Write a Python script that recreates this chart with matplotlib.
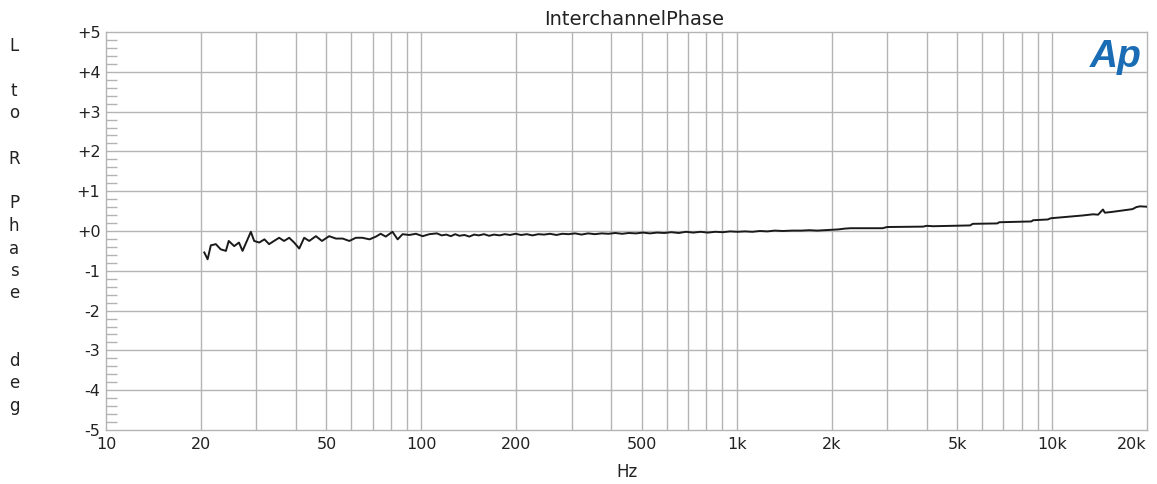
import numpy as np
import matplotlib
matplotlib.use("Agg")
from matplotlib import pyplot as plt
from matplotlib.ticker import FixedLocator, MultipleLocator, NullFormatter

plt.rcParams['font.family'] = ['DejaVu Sans']

# interchannel phase, L to R (deg) in three stretches
freq_low = [20.5, 21.0, 21.5, 22.3, 23.1, 24.0, 24.5, 25.5, 26.4, 27.1, 28.1, 28.8,
            29.5, 30.6, 31.8, 32.9, 34.1, 35.4, 36.7, 38.1, 39.5, 41.0, 42.5, 44.1,
            46.3, 48.4, 51.0, 53.6, 56.3, 59.1, 62.0, 65.0, 68.5, 71.8, 74.3, 77.1,
            81.0, 84.1, 87.2, 91.5, 96.1, 101, 106]
phase_low = [-0.54, -0.71, -0.36, -0.33, -0.46, -0.50, -0.25, -0.38, -0.29, -0.50,
             -0.21, -0.02, -0.25, -0.29, -0.21, -0.33, -0.25, -0.17, -0.25, -0.17,
             -0.29, -0.44, -0.17, -0.25, -0.13, -0.25, -0.13, -0.19, -0.19, -0.25,
             -0.17, -0.17, -0.21, -0.14, -0.07, -0.14, -0.02, -0.21, -0.08, -0.10,
             -0.07, -0.13, -0.08]

freq_mid = [112, 116, 120, 124, 128, 132, 137, 142, 147, 152, 158, 164, 170, 177,
            184, 191, 199, 207, 216, 225, 235, 245, 256, 268, 280, 293, 307, 322,
            338, 355, 373, 392, 412, 433, 455, 479, 504, 531, 559, 589, 621, 655,
            690, 728, 768, 810, 855, 903, 953, 1006, 1062, 1121, 1184, 1250, 1320,
            1400, 1500, 1600, 1700, 1800, 1900, 2000, 2100]
phase_mid = [-0.06, -0.11, -0.09, -0.13, -0.08, -0.12, -0.10, -0.14, -0.09, -0.11,
             -0.08, -0.12, -0.09, -0.11, -0.08, -0.10, -0.07, -0.10, -0.08, -0.11,
             -0.08, -0.09, -0.07, -0.10, -0.07, -0.08, -0.06, -0.09, -0.06, -0.08,
             -0.06, -0.07, -0.05, -0.07, -0.05, -0.06, -0.04, -0.06, -0.04, -0.05,
             -0.03, -0.05, -0.02, -0.04, -0.02, -0.04, -0.02, -0.03, -0.01, -0.02,
             -0.01, -0.02, 0.00, -0.01, 0.01, 0.00, 0.01, 0.01, 0.02, 0.01, 0.02,
             0.03, 0.04]

freq_high = [2200, 2300, 2900, 3000, 3900, 4000, 4200, 5500, 5600, 6700, 6800,
             8600, 8700, 9700, 9900, 12500, 13500, 14000, 14500, 14700, 15500,
             16900, 18000, 18500, 19000, 20000]
phase_high = [0.06, 0.07, 0.07, 0.10, 0.11, 0.13, 0.12, 0.14, 0.18, 0.19, 0.22,
              0.24, 0.27, 0.29, 0.32, 0.39, 0.42, 0.41, 0.54, 0.46, 0.48, 0.52,
              0.55, 0.60, 0.62, 0.61]

xticks = [10, 20, 50, 100, 200, 500, 1000, 2000, 5000, 10000, 20000]
xlabels = ["10", "20", "50", "100", "200", "500", "1k", "2k", "5k", "10k", "20k"]
yticks = [5, 4, 3, 2, 1, 0, -1, -2, -3, -4, -5]
ylabels = ["+5", "+4", "+3", "+2", "+1", "+0", "-1", "-2", "-3", "-4", "-5"]
ylabel_chars = ["L", "", "t", "o", "", "R", "", "P", "h", "a", "s", "e", "", "", "d", "e", "g"]

freq = freq_low + freq_mid + freq_high
phase = phase_low + phase_mid + phase_high

W, H = 1157, 484
fig = plt.figure(figsize=(W / 100, H / 100), dpi=100)
ax = fig.add_axes([106 / W, (H - 430) / H, 1041 / W, 398 / H])

grid_c = '#b4b4b4'
txt_c = '#222222'
ax.set_xscale('log')
ax.set_xlim(10, 20000)
ax.set_ylim(-5, 5)

# vertical grid at every 1..9 of each decade
vgrid = [m * 10 ** e for e in range(1, 5) for m in range(1, 10) if 10 < m * 10 ** e < 20000]
for v in vgrid:
    ax.axvline(v, color=grid_c, lw=1, zorder=1)
for t in range(-4, 5):
    ax.axhline(t, color=grid_c, lw=1, zorder=1)

ax.plot(freq, phase, color='#1a1a1a', lw=1.4, zorder=3)

ax.xaxis.set_major_locator(FixedLocator(xticks))
ax.set_xticklabels(xlabels)
ax.xaxis.set_minor_locator(FixedLocator([]))
ax.xaxis.set_minor_formatter(NullFormatter())
ax.tick_params(axis='x', which='both', length=0, pad=5, labelsize=11.5, colors=txt_c)
# last label kept inside the picture, as in the original
ax.get_xticklabels()[-1].set_horizontalalignment('right')

ax.set_yticks(yticks)
ax.set_yticklabels(ylabels)
ax.yaxis.set_minor_locator(MultipleLocator(0.2))
ax.tick_params(axis='y', which='major', length=0, pad=4, labelsize=11.5, colors=txt_c)
ax.tick_params(axis='y', which='minor', direction='in', length=8, width=1, color=grid_c)

for s in ax.spines.values():
    s.set_color(grid_c)
    s.set_linewidth(1)

ax.set_title("InterchannelPhase", fontsize=14, color=txt_c, pad=5,
             x=(634 - 106) / 1041)
ax.set_xlabel("Hz", fontsize=12, color=txt_c, labelpad=8)

# stacked vertical axis label
for i, ch in enumerate(ylabel_chars):
    fig.text(14 / W, 1 - (46 + 22.5 * i) / H, ch, ha='center', va='center',
             fontsize=12, color=txt_c)

# Ap logo
fig.text(1116 / W, 1 - 57 / H, "Ap", ha='center', va='center', fontsize=28,
         fontweight='bold', fontstyle='italic', color='#1a6db4',
         family='Liberation Sans')

fig.savefig("out.png", dpi=100)
